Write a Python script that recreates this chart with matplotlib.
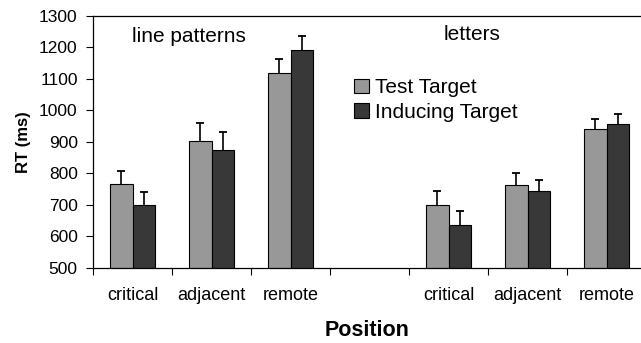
import numpy as np
import matplotlib
matplotlib.use("Agg")
import matplotlib.pyplot as plt

plt.rcParams['font.family'] = ['Liberation Sans', 'DejaVu Sans']

# ---- data ----
positions = ["critical", "adjacent", "remote", "", "critical", "adjacent", "remote"]
test_target = [766, 904, 1119, np.nan, 701, 765, 940]
test_err = [41, 55, 46, np.nan, 45, 38, 34]
inducing_target = [700, 875, 1191, np.nan, 635, 744, 958]
inducing_err = [42, 56, 46, np.nan, 46, 36, 32]
yticks = [500, 600, 700, 800, 900, 1000, 1100, 1200, 1300]

fig = plt.figure(figsize=(6.41, 3.43), dpi=100)
ax = fig.add_axes([93/641, 1-268/343, 548/641, 252/343])

x = np.arange(len(positions))
w = 0.29

# upper-only error bars: stem from bar top, cap at top
def upper_err(xs, vals, errs):
    vals = np.asarray(vals, float)
    tops = vals + np.asarray(errs, float)
    ax.vlines(xs, vals, tops, colors='black', linewidth=1.2, zorder=3)
    ax.plot(xs, tops, linestyle='none', marker='_', markersize=6,
            markeredgewidth=1.3, color='black', zorder=3)

ax.bar(x - w/2, test_target, w, color='#989898', edgecolor='black', linewidth=0.8,
       label='Test Target', zorder=2)
ax.bar(x + w/2, inducing_target, w, color='#383838', edgecolor='black', linewidth=0.8,
       label='Inducing Target', zorder=2)
upper_err(x - w/2, test_target, test_err)
upper_err(x + w/2, inducing_target, inducing_err)

ax.set_ylim(500, 1300)
ax.set_yticks(yticks)
ax.set_xlim(-0.5, -0.5 + 548/79)

# category boundaries as major ticks, names as minor ticks
ax.set_xticks(np.arange(-0.5, 6, 1.0))
ax.set_xticklabels([])
ax.set_xticks(x, minor=True)
ax.set_xticklabels(positions, minor=True)
ax.tick_params(axis='x', which='major', direction='out', length=5, width=0.8)
ax.tick_params(axis='x', which='minor', length=0, pad=14, labelsize=13)
ax.tick_params(axis='y', direction='out', length=5, width=0.8, pad=6, labelsize=12.5)

ax.spines['right'].set_visible(False)
for s in ['left', 'bottom', 'top']:
    ax.spines[s].set_linewidth(0.9)

ax.set_ylabel('RT (ms)', fontsize=12, fontweight='bold', labelpad=6)
ax.set_xlabel('Position', fontsize=15.5, fontweight='bold', labelpad=11)

ax.text(0.175, 0.917, 'line patterns', transform=ax.transAxes, ha='center', va='center',
        fontsize=15)
ax.text(0.692, 0.925, 'letters', transform=ax.transAxes, ha='center', va='center',
        fontsize=15)

ax.legend(loc='upper left', bbox_to_anchor=(0.45, 0.81), frameon=False, fontsize=15,
          handlelength=0.7, handleheight=0.7, handletextpad=0.3, labelspacing=0.25,
          borderpad=0.2)

fig.savefig('out.png', dpi=100)
